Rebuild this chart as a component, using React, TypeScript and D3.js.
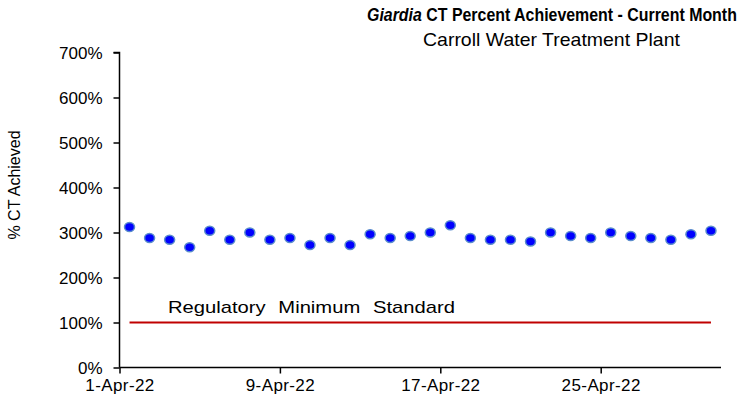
import React, { useRef, useEffect } from 'react';
import * as d3 from 'd3';

// daily CT % achievement, April 2022
const days = d3.range(1, 31);
const ctPercent = [
  312, 288, 284, 267, 304, 284, 300, 284, 288, 272,
  288, 272, 296, 288, 292, 300, 316, 288, 284, 284,
  280, 300, 292, 288, 300, 292, 288, 284, 296, 304,
];
const yTicks = [0, 100, 200, 300, 400, 500, 600, 700];
const xTickDays = [1, 9, 17, 25];
const regMinimum = 100;

const App = () => {
  const svgRef = useRef(null);

  useEffect(() => {
    const svg = d3.select(svgRef.current);
    const font = 'Liberation Sans, Arial, sans-serif';

    svg.selectAll('*').remove();

    const date = (d: number) => new Date(2022, 3, d);
    const x = d3.scaleTime().domain([date(1), date(31)]).range([119.5, 721]);
    const y = d3.scaleLinear().domain([0, 700]).range([367.5, 52.5]);
    const mid = (d: number) => x(date(d)) + (x(date(2)) - x(date(1))) / 2;

    // squeeze a text horizontally so it spans `w` px from its left edge
    const fit = (g: any, left: number, base: number, w: number) => {
      const t = g.select('text').node() as SVGTextElement;
      const len = t.getComputedTextLength();
      g.attr('transform', `translate(${left},${base}) scale(${w / len},1)`);
    };

    // title
    const titleG = svg.append('g');
    const title = titleG.append('text')
      .attr('font-family', font).attr('font-size', 18).attr('font-weight', 'bold');
    title.append('tspan').attr('font-style', 'italic').text('Giardia');
    title.append('tspan').text(' CT Percent Achievement - Current Month');
    fit(titleG, 367, 21, 370);

    const subG = svg.append('g');
    subG.append('text')
      .attr('font-family', font).attr('font-size', 18)
      .text('Carroll Water Treatment Plant');
    fit(subG, 423, 46, 257);

    // y axis
    const yAxis = svg.append('g')
      .attr('transform', `translate(119.5,0)`)
      .call(d3.axisLeft(y).tickValues(yTicks).tickSize(6).tickPadding(11).tickFormat(d => `${d}%`));
    yAxis.select('.domain').attr('stroke-width', 1.5).attr('d', `M-6,${y(700)}H0V${y(0)}`);
    yAxis.selectAll('.tick line').attr('stroke-width', 1.5);
    yAxis.selectAll('text').attr('font-family', font).attr('font-size', 17).attr('fill', '#000').attr('dy', '0.35em');

    svg.append('text')
      .attr('transform', `translate(20,185) rotate(-90)`)
      .attr('text-anchor', 'middle')
      .attr('font-family', font).attr('font-size', 16)
      .text('% CT Achieved');

    // x axis
    const xAxis = svg.append('g')
      .attr('transform', `translate(0,${y(0)})`)
      .call(d3.axisBottom(x).tickValues(xTickDays.map(date)).tickSize(6).tickPadding(5)
        .tickFormat(d => d3.timeFormat('%-d-%b-%y')(d as Date)));
    xAxis.select('.domain').attr('stroke-width', 1.5).attr('d', `M${x(date(1))},0H${x(date(31))}`);
    xAxis.selectAll('.tick line').attr('stroke-width', 1.5);
    xAxis.selectAll('text').attr('font-family', font).attr('font-size', 17)
      .attr('letter-spacing', 0.4).attr('fill', '#000');

    // regulatory minimum
    svg.append('line')
      .attr('x1', mid(1)).attr('x2', mid(30))
      .attr('y1', y(regMinimum)).attr('y2', y(regMinimum))
      .attr('stroke', '#c00000').attr('stroke-width', 2);

    const regG = svg.append('g');
    regG.append('text')
      .attr('font-family', font).attr('font-size', 17)
      .attr('word-spacing', 6)
      .text('Regulatory Minimum Standard');
    fit(regG, 168, y(regMinimum) - 10, 287);

    // daily points
    svg.append('g')
      .selectAll('ellipse')
      .data(days)
      .enter()
      .append('ellipse')
      .attr('cx', d => mid(d))
      .attr('cy', (d, i) => y(ctPercent[i]))
      .attr('rx', 5)
      .attr('ry', 4.5)
      .attr('fill', '#0000ff')
      .attr('stroke', '#5a8ccc')
      .attr('stroke-width', 1.5);
  }, []);

  return (
    <div>
      <svg ref={svgRef} width={741} height={404} style={{ position: 'absolute', left: 0, top: 0 }} />
    </div>
  );
};

export default App;
